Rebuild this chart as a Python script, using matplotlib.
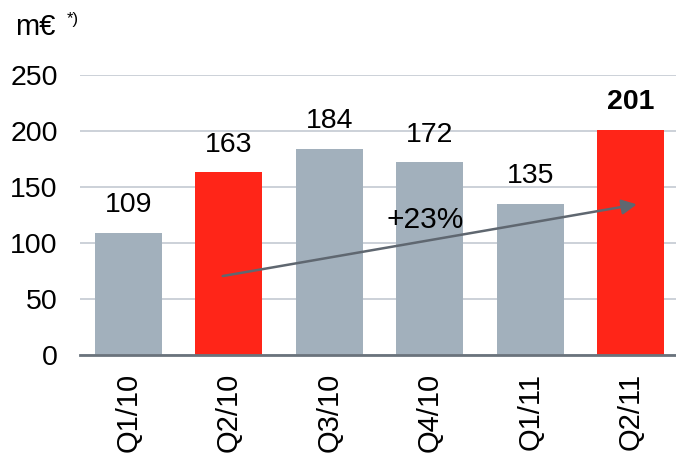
import matplotlib
matplotlib.use("Agg")
from matplotlib import pyplot as plt

# Data
quarters = ['Q1/10', 'Q2/10', 'Q3/10', 'Q4/10', 'Q1/11', 'Q2/11']
values = [109, 163, 184, 172, 135, 201]
highlight = [False, True, False, False, False, True]
yticks = [0, 50, 100, 150, 200, 250]
growth_label = "+23%"
unit_label = "m€"

grey = '#A2B0BC'
red = '#FF2518'
arrow_col = '#5F6770'

plt.rcParams['font.family'] = ['Liberation Sans', 'DejaVu Sans']

fig = plt.figure(figsize=(6.76, 4.58), dpi=100)
ax = fig.add_axes([80/676, 103/458, 1 - 80/676, 280/458])

x = list(range(len(quarters)))
colors = [red if h else grey for h in highlight]
ax.bar(x, values, width=0.667, color=colors, zorder=2)

# value labels
for i, v in enumerate(values):
    ax.annotate(str(v), xy=(i, v), xytext=(0, 15), textcoords='offset points',
                ha='center', va='baseline', fontsize=20.5,
                fontweight='bold' if i == len(values) - 1 else 'normal')

# growth arrow from Q2/10 to Q2/11
ax.annotate('', xy=(5.06, 134.5), xytext=(0.94, 70.5),
            arrowprops=dict(arrowstyle='-|>,head_length=0.9,head_width=0.45',
                            color=arrow_col, lw=1.8, shrinkA=0, shrinkB=0),
            zorder=4)
ax.text(2.955, 113.5, growth_label, ha='center', va='baseline', fontsize=21.5, zorder=5)

# axes styling
ax.set_xlim(-0.48, 5.45)
ax.set_ylim(0, 250)
ax.set_yticks(yticks)
ax.yaxis.grid(True, color='#C3CAD2', lw=1.2, zorder=0)
ax.set_axisbelow(True)
for s in ['top', 'right', 'left']:
    ax.spines[s].set_visible(False)
ax.spines['bottom'].set_color('#6A737C')
ax.spines['bottom'].set_linewidth(2)
ax.spines['bottom'].set_zorder(3)
ax.tick_params(axis='y', length=0, labelsize=20.5, pad=16)
ax.tick_params(axis='x', length=0, labelsize=21, pad=13)
ax.set_xticks(x)
ax.set_xticklabels(quarters, rotation=90, va='top', ha='center')
for lab in ax.get_yticklabels():
    lab.set_horizontalalignment('right')

fig.text(15/676, 1 - 35/458, unit_label, fontsize=21, ha='left', va='baseline')
fig.text(67/676, 1 - 24/458, "*)", fontsize=12, ha='left', va='baseline')

fig.savefig('out.png', dpi=100)
